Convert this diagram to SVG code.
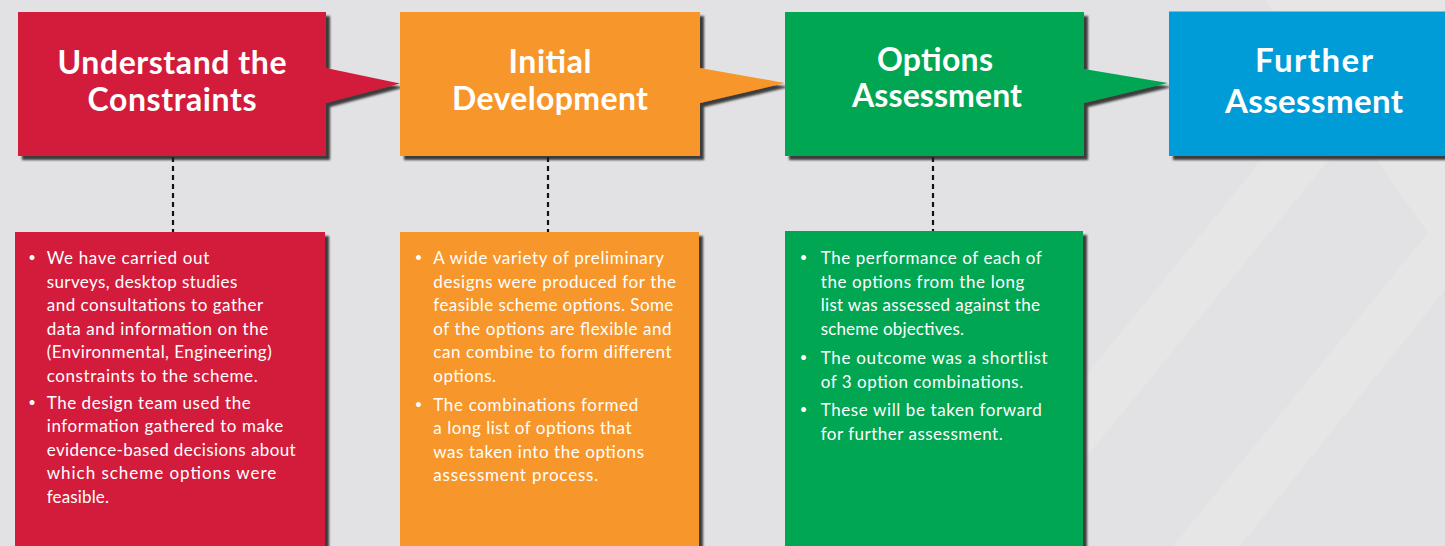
<svg xmlns="http://www.w3.org/2000/svg" width="1445" height="546" viewBox="0 0 1445 546">
<defs>
<filter id="sh" x="-5%" y="-5%" width="115%" height="115%">
<feDropShadow dx="4" dy="4" stdDeviation="1.2" flood-color="#1a1a1a" flood-opacity="0.85"/>
</filter>
</defs>
<style>
.h{font-family:Lato,"Open Sans","DejaVu Sans",sans-serif;font-weight:700;font-size:32px;fill:#fff;text-anchor:middle}
.hb{font-size:33px}
.b{font-family:Lato,"Open Sans","DejaVu Sans",sans-serif;font-size:17px;fill:#fff}
.bu{font-family:Lato,"Open Sans","DejaVu Sans",sans-serif;font-size:13px;fill:#fff;text-anchor:middle}
.dash{stroke:#111;stroke-width:2.2;stroke-dasharray:5 4;fill:none}
</style>
<rect x="0" y="0" width="1445" height="546" fill="#e2e2e4"/>
<g id="background" fill="#e6e6e7">
<polygon points="1392,0 1459,0 1014,546 947,546"/>
<polygon points="1173,546 1428,233 1265,0 1445,0 1445,290 1240,546"/>
</g>
<g id="connectors">
<line class="dash" x1="173" y1="157" x2="173" y2="232"/>
<line class="dash" x1="548" y1="157" x2="548" y2="232"/>
<line class="dash" x1="933" y1="157" x2="933" y2="231"/>
</g>
<g id="node-understand">
<path d="M18,12 H326 V68 L400,83.5 L326,103 V156 H18 Z" fill="#d31f3b" filter="url(#sh)"/>
<text class="h" x="172" y="74" textLength="229">Understand the</text>
<text class="h" x="172" y="111" textLength="169">Constraints</text>
</g>
<g id="node-initial">
<path d="M400,12 H700 V68 L785,83 L700,103 V156 H400 Z" fill="#f7962a" filter="url(#sh)"/>
<text class="h" x="550" y="73" textLength="83">Initial</text>
<text class="h" x="550" y="110" textLength="196">Development</text>
</g>
<g id="node-options">
<path d="M785,12 H1084 V69 L1168,83 L1084,103 V156 H785 Z" fill="#00a651" filter="url(#sh)"/>
<text class="h" x="935" y="71" textLength="116">Options</text>
<text class="h" x="937" y="107" textLength="170">Assessment</text>
</g>
<g id="node-further">
<rect x="1169" y="11.5" width="300" height="144.5" fill="#009cd7" filter="url(#sh)"/>
<text class="h hb" x="1314" y="71.5" textLength="118">Further</text>
<text class="h hb" x="1314" y="113" textLength="178">Assessment</text>
</g>
<g id="body-understand">
<rect x="15" y="232" width="310" height="330" fill="#d31f3b" filter="url(#sh)"/>
<text class="bu" x="32" y="262">•</text>
<text class="b" x="46.7" y="264" textLength="162.6">We have carried out</text>
<text class="b" x="46.7" y="287.5" textLength="190.6">surveys, desktop studies</text>
<text class="b" x="46.7" y="311" textLength="216.6">and consultations to gather</text>
<text class="b" x="46.7" y="334.5" textLength="221.6">data and information on the</text>
<text class="b" x="46.7" y="358" textLength="225">(Environmental, Engineering)</text>
<text class="b" x="46.7" y="381.5" textLength="211">constraints to the scheme.</text>
<text class="bu" x="32" y="406.5">•</text>
<text class="b" x="46.7" y="408.5" textLength="204">The design team used the</text>
<text class="b" x="46.7" y="432" textLength="236.6">information gathered to make</text>
<text class="b" x="46.7" y="455.5" textLength="249">evidence-based decisions about</text>
<text class="b" x="46.7" y="479" textLength="229.6">which scheme options were</text>
<text class="b" x="46.7" y="502.5" textLength="62.3">feasible.</text>
</g>
<g id="body-initial">
<rect x="400" y="232" width="299" height="330" fill="#f7962a" filter="url(#sh)"/>
<text class="bu" x="418.5" y="262.3">•</text>
<text class="b" x="433.3" y="264.3" textLength="230.7">A wide variety of preliminary</text>
<text class="b" x="433.3" y="287.8" textLength="242.7">designs were produced for the</text>
<text class="b" x="433.3" y="311.3" textLength="240">feasible scheme options. Some</text>
<text class="b" x="433.3" y="334.8" textLength="238.3">of the options are flexible and</text>
<text class="b" x="433.3" y="358.3" textLength="238.3">can combine to form different</text>
<text class="b" x="433.3" y="381.8" textLength="62.7">options.</text>
<text class="bu" x="418.5" y="408.5">•</text>
<text class="b" x="433.3" y="410.5" textLength="205">The combinations formed</text>
<text class="b" x="433.3" y="434" textLength="198.3">a long list of options that</text>
<text class="b" x="433.3" y="457.5" textLength="210.7">was taken into the options</text>
<text class="b" x="433.3" y="481" textLength="165">assessment process.</text>
</g>
<g id="body-options">
<rect x="785" y="231" width="298" height="331" fill="#00a651" filter="url(#sh)"/>
<text class="bu" x="803.5" y="262.3">•</text>
<text class="b" x="820.7" y="264.3" textLength="221">The performance of each of</text>
<text class="b" x="820.7" y="287.8" textLength="203.7">the options from the long</text>
<text class="b" x="820.7" y="311.3" textLength="219.3">list was assessed against the</text>
<text class="b" x="820.7" y="334.8" textLength="143.3">scheme objectives.</text>
<text class="bu" x="803.5" y="362">•</text>
<text class="b" x="820.7" y="364" textLength="227">The outcome was a shortlist</text>
<text class="b" x="820.7" y="387.5" textLength="202.6">of 3 option combinations.</text>
<text class="bu" x="803.5" y="414">•</text>
<text class="b" x="820.7" y="416" textLength="221">These will be taken forward</text>
<text class="b" x="820.7" y="439.5" textLength="182">for further assessment.</text>
</g>
</svg>
